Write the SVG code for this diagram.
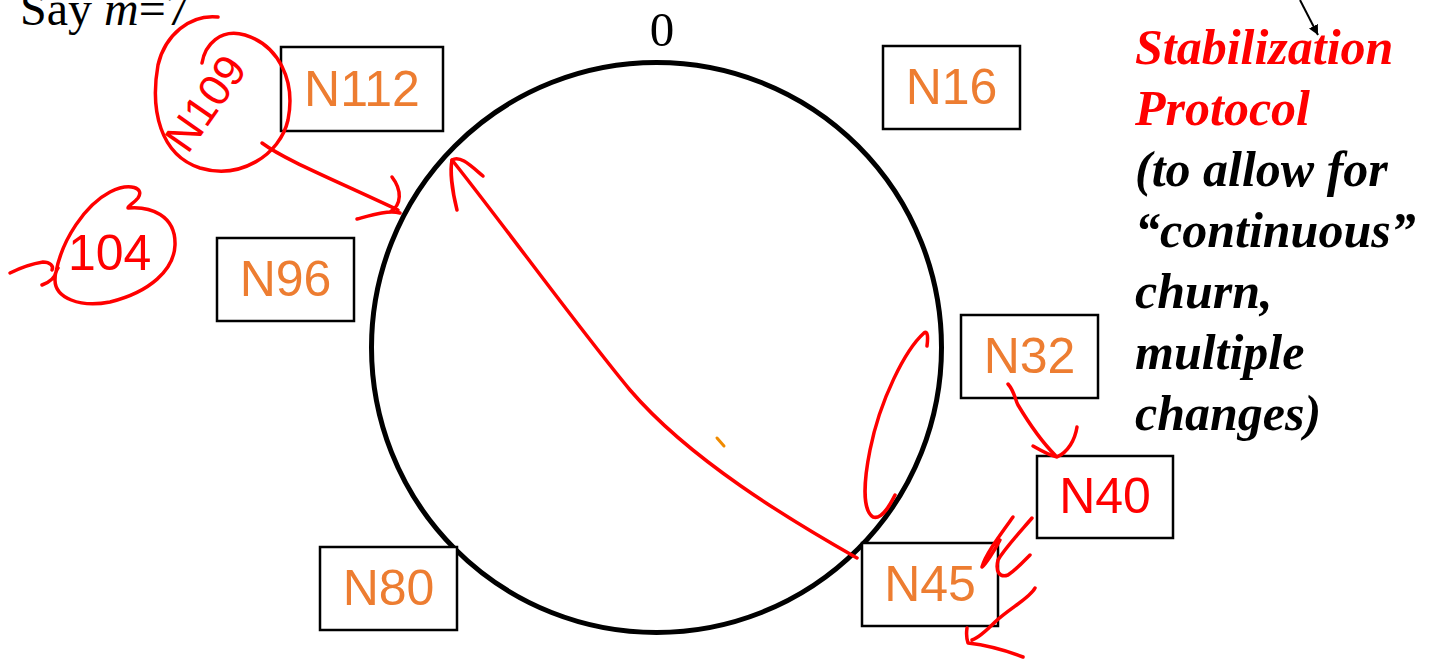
<svg xmlns="http://www.w3.org/2000/svg" width="1430" height="659" viewBox="0 0 1430 659">
<style>
.box{fill:#fff;stroke:#000;stroke-width:2.5}
.lbl{font-family:"Liberation Sans",Arial,sans-serif;font-size:50px;fill:#ED7D31;text-anchor:middle}
.red{fill:#FF0000}
.ink{fill:none;stroke:#FF0000;stroke-width:3.5;stroke-linecap:round;stroke-linejoin:round}
.serif{font-family:"Liberation Serif","Times New Roman",serif;fill:#000}
.side{font-family:"Liberation Serif","Times New Roman",serif;font-size:50px;font-weight:bold;font-style:italic}
.hand{font-family:"Liberation Sans",Arial,sans-serif;fill:#FF0000}
</style>
<defs>
<marker id="blackHead" viewBox="0 0 10 10" refX="10" refY="5" markerWidth="10" markerHeight="10" markerUnits="userSpaceOnUse" orient="auto">
<path d="M0,0 L10,5 L0,10 z" fill="#000"/>
</marker>
</defs>
<rect width="1430" height="659" fill="#fff"/>

<text class="serif" x="20" y="25" font-size="48">Say <tspan font-style="italic">m</tspan>=7</text>
<text class="serif" x="662" y="46" font-size="49" text-anchor="middle">0</text>

<g id="ring">
<circle cx="656.5" cy="347.5" r="285" fill="none" stroke="#000" stroke-width="5"/>
</g>

<g id="N112"><rect class="box" x="281" y="47" width="162" height="84"/><text class="lbl" x="362" y="106">N112</text></g>
<g id="N16"><rect class="box" x="883" y="46" width="137" height="83"/><text class="lbl" x="951.5" y="104">N16</text></g>
<g id="N96"><rect class="box" x="217" y="238" width="137" height="83"/><text class="lbl" x="285.5" y="296">N96</text></g>
<g id="N32"><rect class="box" x="961" y="315" width="137" height="83"/><text class="lbl" x="1029.5" y="373">N32</text></g>
<g id="N40"><rect class="box" x="1037" y="456" width="136" height="82"/><text class="lbl red" x="1105" y="513">N40</text></g>
<g id="N45"><rect class="box" x="862" y="543" width="136" height="83"/><text class="lbl" x="930" y="601">N45</text></g>
<g id="N80"><rect class="box" x="320" y="547" width="137" height="83"/><text class="lbl" x="388.5" y="605">N80</text></g>

<g id="side-text" class="side">
<text x="1135" y="64" class="red">Stabilization</text>
<text x="1135" y="125" class="red">Protocol</text>
<text x="1135" y="186">(to allow for</text>
<text x="1135" y="247">“continuous”</text>
<text x="1135" y="308">churn,</text>
<text x="1135" y="369">multiple</text>
<text x="1135" y="430">changes)</text>
</g>

<g id="annotations">
<text class="hand" font-size="44" text-anchor="middle" transform="translate(218,112) rotate(-55)">N109</text>
<text class="hand" font-size="50" x="68" y="270">104</text>
</g>

<g id="connectors">
<line x1="1300" y1="0" x2="1318" y2="35" stroke="#000" stroke-width="2" marker-end="url(#blackHead)"/>
<path class="ink" d="M218,17 C190,14 165,35 158,65 C150,110 160,155 200,168 C240,180 280,155 288,120 C296,80 278,45 245,35 C220,28 205,45 202,63"/>
<path class="ink" d="M262,143 C285,160 330,178 398,210"/>
<path class="ink" d="M392,177 C402,190 402,205 390,212 M357,219 C372,215 388,210 400,213"/>
<path class="ink" d="M10,273 C20,268 30,264 43,262 C50,262 54,266 52,270"/>
<path class="ink" d="M42,285 C50,282 55,278 56,272 C62,240 85,205 110,192 C130,182 145,188 138,198 C134,203 128,206 128,208 C150,206 176,215 175,245 C174,270 150,292 110,302 C80,308 55,298 55,280 C55,272 58,268 58,268"/>
<path class="ink" d="M857,558 C790,520 690,460 630,390 C580,330 500,220 452,160"/>
<path class="ink" d="M457,210 C452,190 450,170 452,160 C460,155 470,165 483,176"/>
<line x1="717" y1="438" x2="724" y2="446" stroke="#F08A00" stroke-width="3" stroke-linecap="round"/>
<path class="ink" d="M927,346 C928,338 928,330 924,333 C905,350 880,400 870,450 C864,480 862,510 873,517 C882,520 890,505 895,495"/>
<path class="ink" d="M1008,384 C1015,392 1015,400 1018,405 C1030,425 1045,445 1055,455"/>
<path class="ink" d="M1033,446 C1040,450 1048,455 1057,457 C1068,452 1075,440 1077,427"/>
<path class="ink" d="M1032,518 C1020,532 1005,548 998,560 C995,572 1000,578 1008,575 C1018,568 1025,560 1030,555"/>
<path class="ink" d="M1013,517 C1000,535 985,555 982,567 C985,565 995,550 1000,540"/>
<path class="ink" d="M1035,588 C1030,598 1010,608 995,622 C985,632 978,638 972,640 M967,628 C966,635 967,640 968,643 C985,645 1005,650 1023,657"/>
</g>
</svg>
